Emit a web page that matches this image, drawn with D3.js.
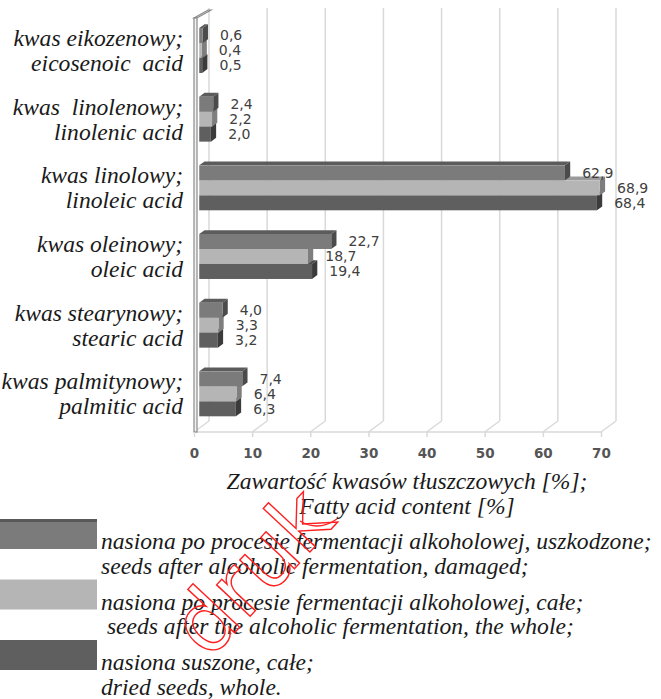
<!DOCTYPE html>
<html>
<head>
<meta charset="utf-8">
<script src="https://cdn.jsdelivr.net/npm/d3@7"></script>
<style>
  html, body { margin: 0; padding: 0; background: #fff; }
  svg { display: block; }
</style>
</head>
<body>
<svg id="chart" width="661" height="699"></svg>
<script>
// ---------------- data ----------------
const categories = ["eicosenoic", "linolenic", "linoleic", "oleic", "stearic", "palmitic"];
const categoryLabelsPL = ["kwas eikozenowy;", "kwas  linolenowy;", "kwas linolowy;", "kwas oleinowy;", "kwas stearynowy;", "kwas palmitynowy;"];
const categoryLabelsEN = ["eicosenoic  acid", "linolenic acid", "linoleic acid", "oleic acid", "stearic acid", "palmitic acid"];

const seedsFermentedDamaged = [0.6, 2.4, 62.9, 22.7, 4.0, 7.4];
const seedsFermentedWhole   = [0.4, 2.2, 68.9, 18.7, 3.3, 6.4];
const seedsDriedWhole       = [0.5, 2.0, 68.4, 19.4, 3.2, 6.3];

const seriesLegendPL = [
  "nasiona po procesie fermentacji alkoholowej, uszkodzone;",
  "nasiona po procesie fermentacji alkoholowej, całe;",
  "nasiona suszone, całe;"
];
const seriesLegendEN = [
  "seeds after alcoholic fermentation, damaged;",
  " seeds after the alcoholic fermentation, the whole;",
  "dried seeds, whole."
];

const xTicks = [0, 10, 20, 30, 40, 50, 60, 70];
const xDomain = [0, 70];
const axisTitle = ["Zawartość kwasów tłuszczowych [%];", "Fatty acid content [%]"];

// ---------------- styles ----------------
const seriesValues = [seedsFermentedDamaged, seedsFermentedWhole, seedsDriedWhole];
const seriesStyle = [
  { front: "#7b7b7b", top: "#5c5c5c", side: "#4b4b4b", legendEdge: "#595959" },
  { front: "#b5b5b5", top: "#9a9a9a", side: "#7e7e7e", legendEdge: null },
  { front: "#5f5f5f", top: "#4c4c4c", side: "#3b3b3b", legendEdge: null }
];

const svg = d3.select("#chart");
const serifFont = "'Liberation Serif', 'DejaVu Serif', serif";

// calibrate italic serif size to match the reference text widths
function fitSize(str, targetWidth) {
  const t = svg.append("text").attr("font-family", serifFont).attr("font-style", "italic")
    .attr("font-size", 100).text(str);
  const w = t.node().getComputedTextLength();
  t.remove();
  return 100 * targetWidth / w;
}
const labelSize = fitSize(seriesLegendPL[0], 551);

// ---------------- geometry ----------------
const DX = 15, DY = -11;          // depth projection
const Z0 = 0.35, Z1 = 0.7;        // bar depth range
const floorY = 432, topY = 20;

const x = d3.scaleLinear().domain(xDomain).range([194, 601]);
const y = d3.scaleBand().domain(categories).range([topY, floorY])
  .paddingInner(0.345).paddingOuter(0.1725);
const ySub = d3.scaleBand().domain(d3.range(seriesValues.length)).range([0, y.bandwidth()]);

const gridColor = "#d9d9d9";

// gridlines on back wall
const grid = svg.append("g");
grid.selectAll("line.v").data(xTicks).join("line")
  .attr("x1", d => x(d) + DX).attr("x2", d => x(d) + DX)
  .attr("y1", floorY + DY).attr("y2", topY + DY - 1)
  .attr("stroke", gridColor).attr("stroke-width", 1.5);
// floor diagonals
grid.selectAll("line.d").data(xTicks).join("line")
  .attr("x1", d => x(d)).attr("x2", d => x(d) + DX)
  .attr("y1", floorY).attr("y2", floorY + DY)
  .attr("stroke", gridColor).attr("stroke-width", 1.5);
// floor front edge
grid.append("line")
  .attr("x1", x(xDomain[0])).attr("x2", x(xDomain[1]))
  .attr("y1", floorY).attr("y2", floorY)
  .attr("stroke", gridColor).attr("stroke-width", 1.5);

// left wall (thin slab)
const wall = svg.append("g");
const wx = x(0), wt = 3;
wall.append("polygon")
  .attr("points", [[wx, topY - 2], [wx + DX - 1, topY - 2 + DY + 3], [wx + DX - 1 + wt, topY - 2 + DY + 3], [wx + wt, topY - 2]].join(" "))
  .attr("fill", "#f2f2f2").attr("stroke", "#8a8a8a").attr("stroke-width", 1.2);
wall.append("rect")
  .attr("x", wx).attr("y", topY - 2).attr("width", wt).attr("height", floorY - topY + 2)
  .attr("fill", "#f2f2f2").attr("stroke", "#8a8a8a").attr("stroke-width", 1.2);

// x axis (ticks + labels)
const axis = d3.axisBottom(x).tickValues(xTicks).tickSize(5).tickPadding(11)
  .tickFormat(d3.format("d"));
const axG = svg.append("g").attr("transform", `translate(0,${floorY})`).call(axis);
axG.select(".domain").remove();
axG.selectAll(".tick line").attr("stroke", gridColor).attr("stroke-width", 1.5);
axG.selectAll(".tick text")
  .attr("font-family", "'DejaVu Sans', sans-serif").attr("font-size", 13.5)
  .attr("font-weight", "bold").attr("fill", "#555");

// bars
const fmt = v => d3.format(".1f")(v).replace(".", ",");
const bars = svg.append("g");
const barData = [];
categories.forEach((c, ci) => {
  seriesValues.forEach((vals, si) => {
    barData.push({ c, ci, si, v: vals[ci] });
  });
});
// draw lower bars first so upper bars cover their top faces
barData.sort((a, b) => (a.ci - b.ci) || (b.si - a.si));

barData.forEach(d => {
  const y0 = y(d.c) + ySub(d.si), y1 = y0 + ySub.bandwidth();
  const xa = x(0), xb = x(d.v);
  const st = seriesStyle[d.si];
  const g = bars.append("g");
  // top face
  g.append("polygon").attr("points", [
    [xa + Z0 * DX, y0 + Z0 * DY], [xb + Z0 * DX, y0 + Z0 * DY],
    [xb + Z1 * DX, y0 + Z1 * DY], [xa + Z1 * DX, y0 + Z1 * DY]].join(" "))
    .attr("fill", st.top);
  // right face
  g.append("polygon").attr("points", [
    [xb + Z0 * DX, y0 + Z0 * DY], [xb + Z1 * DX, y0 + Z1 * DY],
    [xb + Z1 * DX, y1 + Z1 * DY], [xb + Z0 * DX, y1 + Z0 * DY]].join(" "))
    .attr("fill", st.side);
  // front face
  g.append("rect")
    .attr("x", xa + Z0 * DX).attr("y", y0 + Z0 * DY)
    .attr("width", Math.max(0, xb - xa)).attr("height", y1 - y0)
    .attr("fill", st.front);
});

// value labels
svg.append("g").selectAll("text").data(barData).join("text")
  .attr("x", d => x(d.v) + Z1 * DX + 12)
  .attr("y", d => y(d.c) + ySub(d.si) + ySub.bandwidth() / 2 + Z0 * DY + 5)
  .attr("font-family", "'DejaVu Sans', sans-serif").attr("font-size", 14)
  .attr("fill", "#404040")
  .text(d => fmt(d.v));

// category labels
const catG = svg.append("g").attr("font-family", serifFont).attr("font-style", "italic")
  .attr("font-size", labelSize).attr("fill", "#1a1a1a").attr("text-anchor", "end");
categories.forEach((c, i) => {
  const cy = y(c) + y.bandwidth() / 2 - 2;
  catG.append("text").attr("x", 183).attr("y", cy - 12.5 + 6).style("white-space", "pre").text(categoryLabelsPL[i]);
  catG.append("text").attr("x", 183).attr("y", cy + 12.5 + 6).style("white-space", "pre").text(categoryLabelsEN[i]);
});

// axis title
const titleG = svg.append("g").attr("font-family", serifFont).attr("font-style", "italic")
  .attr("font-size", labelSize).attr("fill", "#1a1a1a").attr("text-anchor", "middle");
axisTitle.forEach((t, i) => {
  titleG.append("text").attr("x", 407).attr("y", 489 + i * 25).text(t);
});

// legend
const legG = svg.append("g");
seriesLegendPL.forEach((t, i) => {
  const top = 519 + i * 60.5;
  const st = seriesStyle[i];
  legG.append("rect").attr("x", 0).attr("y", top).attr("width", 97).attr("height", 30).attr("fill", st.front);
  if (st.legendEdge) {
    legG.append("rect").attr("x", 0).attr("y", top).attr("width", 97).attr("height", 3).attr("fill", st.legendEdge);
  }
  legG.append("text").attr("x", 101).attr("y", top + 24 + 6)
    .attr("font-family", serifFont).attr("font-style", "italic").attr("font-size", labelSize)
    .attr("fill", "#1a1a1a").text(t);
  legG.append("text").attr("x", 101).attr("y", top + 48.5 + 6)
    .attr("font-family", serifFont).attr("font-style", "italic").attr("font-size", labelSize)
    .attr("fill", "#1a1a1a").style("white-space", "pre").text(seriesLegendEN[i]);
});

// red watermark outline
const wm = svg.append("g").attr("fill", "none").attr("stroke", "#ff2020").attr("stroke-width", 1.4);
wm.append("text").attr("transform", "translate(338,522) rotate(-47)")
  .attr("text-anchor", "end").attr("font-family", "'DejaVu Sans', sans-serif")
  .attr("font-size", 84).text("druk");
wm.append("path").attr("d", "M300,521 Q318,532 337,519");
</script>
</body>
</html>
